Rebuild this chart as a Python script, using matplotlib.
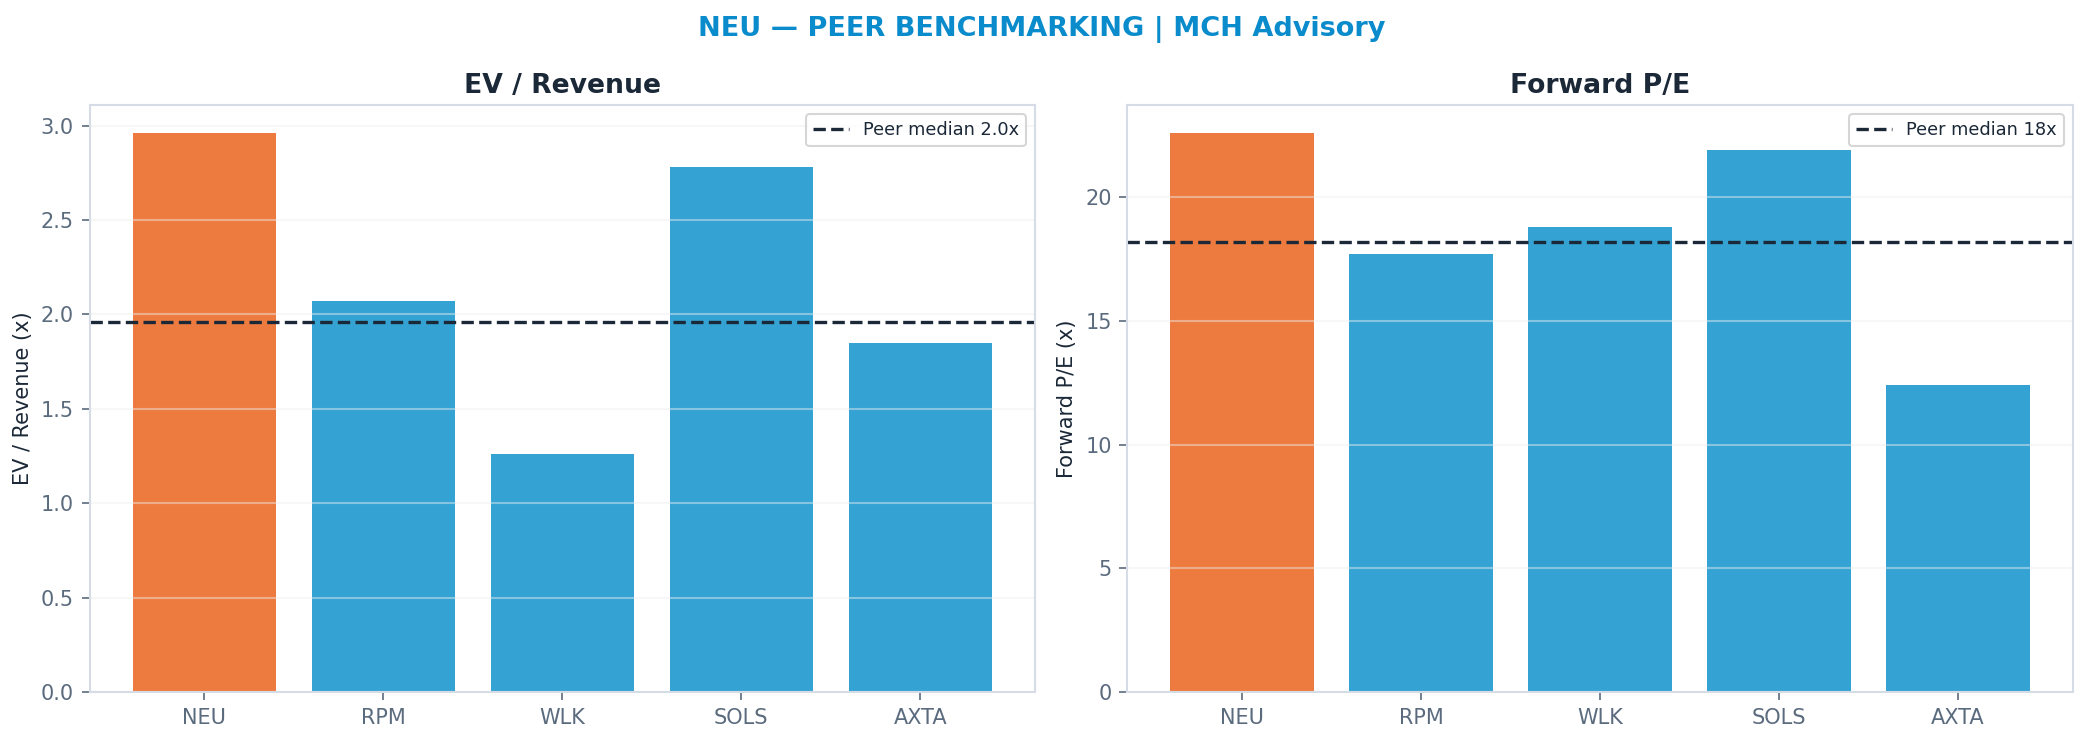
import matplotlib
matplotlib.use("Agg")
from matplotlib import pyplot as plt

tickers = ["NEU", "RPM", "WLK", "SOLS", "AXTA"]
ev_revenue = [2.96, 2.07, 1.26, 2.78, 1.85]
forward_pe = [22.6, 17.7, 18.8, 21.9, 12.4]
ev_median = 1.96
pe_median = 18.2

ORANGE = "#ED7B3F"
BLUE = "#34A3D3"
DARK = "#1B2838"
SLATE = "#5B6B7E"
SPINE = "#D5DCE6"

fig, axes = plt.subplots(1, 2, figsize=(2084 / 150, 741 / 150), dpi=150)
fig.subplots_adjust(left=0.043, right=0.9945, top=0.858, bottom=0.066, wspace=0.098)

fig.suptitle("NEU — PEER BENCHMARKING | MCH Advisory", color="#0A8BCB",
             fontsize=13, fontweight="bold", y=0.978)

panels = [
    (axes[0], ev_revenue, ev_median, "EV / Revenue", "EV / Revenue (x)", "Peer median 2.0x"),
    (axes[1], forward_pe, pe_median, "Forward P/E", "Forward P/E (x)", "Peer median 18x"),
]

for ax, values, median, title, ylabel, label in panels:
    colors = [ORANGE if t == "NEU" else BLUE for t in tickers]
    ax.bar(tickers, values, color=colors, width=0.8)
    ax.axhline(median, color=DARK, linestyle="--", linewidth=1.6, label=label)
    ax.set_title(title, fontsize=12.8, fontweight="bold", color=DARK, pad=6)
    ax.set_ylabel(ylabel, fontsize=10, color=DARK)
    ax.grid(axis="y", color="#EEEEEE", alpha=0.45, linewidth=1)
    ax.tick_params(axis="both", colors=SLATE, labelsize=10, length=4)
    for s in ax.spines.values():
        s.set_color(SPINE)
        s.set_linewidth(1.0)
    leg = ax.legend(loc="upper right", fontsize=8.5, frameon=True, fancybox=True)
    leg.get_frame().set_edgecolor("#CCCCCC")
    for t in leg.get_texts():
        t.set_color(DARK)

plt.savefig("out.png", dpi=150)
